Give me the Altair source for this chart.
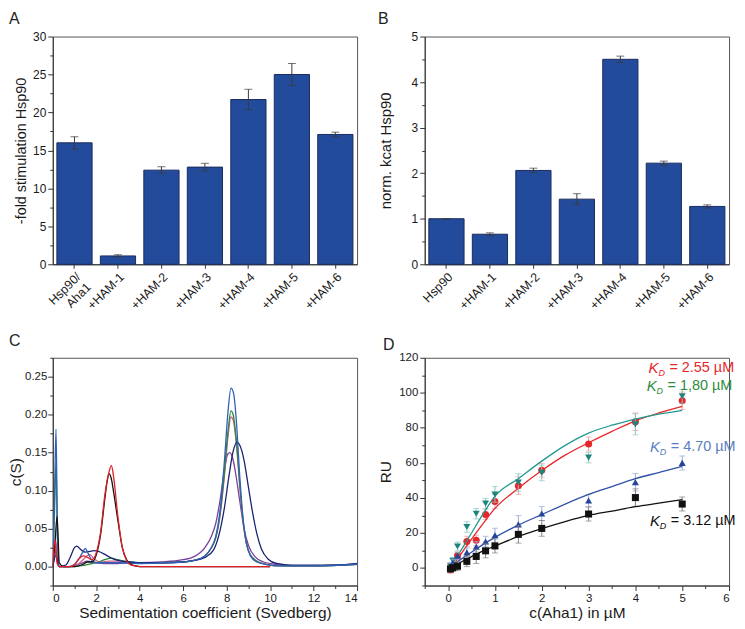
import altair as alt
import pandas as pd

FONT = "Liberation Sans"
BAR_FILL = "#234b9c"
BAR_EDGE = "#1b2b5e"
ERR = "#3a3a3a"

# ---------------- Panel A ----------------
a_cats = ["Hsp90/Aha1", "+HAM-1", "+HAM-2", "+HAM-3", "+HAM-4", "+HAM-5", "+HAM-6"]
a_vals = [16.0, 1.1, 12.4, 12.8, 21.7, 25.0, 17.1]
a_errs = [0.8, 0.15, 0.45, 0.5, 1.35, 1.45, 0.3]
a_ticks = [0, 2.5, 5, 7.5, 10, 12.5, 15, 17.5, 20, 22.5, 25, 27.5, 30]

# ---------------- Panel B ----------------
b_cats = ["Hsp90", "+HAM-1", "+HAM-2", "+HAM-3", "+HAM-4", "+HAM-5", "+HAM-6"]
b_vals = [1.0, 0.66, 2.06, 1.43, 4.50, 2.22, 1.27]
b_errs = [0.0, 0.03, 0.05, 0.12, 0.07, 0.045, 0.035]
b_ticks = [0, 0.5, 1, 1.5, 2, 2.5, 3, 3.5, 4, 4.5, 5]

# ---------------- Panel C ----------------
c_xticks = [0, 1, 2, 3, 4, 5, 6, 7, 8, 9, 10, 11, 12, 13, 14]
c_yticks = [-0.025, 0, 0.025, 0.05, 0.075, 0.1, 0.125, 0.15, 0.175, 0.2, 0.225, 0.25, 0.275]

purple_s = [0, 0.08, 0.15, 0.22, 0.3, 0.6, 1.0, 1.3, 1.6, 1.8, 2.0, 2.4, 3.0, 3.5, 4.0, 5.0, 6.0, 6.5, 7.0, 7.3,
            7.5, 7.7, 7.9, 8.05, 8.15, 8.3, 8.45, 8.6, 8.8, 9.0, 9.3, 9.7, 10.2, 11.0, 12.0, 13.0, 14.0]
purple_c = [0.0, 0.012, 0.022, 0.006, 0.0, 0.0, 0.001, 0.004, 0.007, 0.006, 0.005, 0.004, 0.004, 0.005, 0.005,
            0.006, 0.009, 0.013, 0.025, 0.04, 0.057, 0.088, 0.128, 0.148, 0.15, 0.14, 0.116, 0.087, 0.05, 0.028,
            0.013, 0.006, 0.003, 0.001, 0.001, 0.002, 0.003]
pink_s = [0, 0.08, 0.15, 0.22, 0.3, 0.8, 1.2, 1.5, 1.7, 1.9, 2.2, 2.6, 3.0, 3.5, 4.0, 5.0, 6.0, 6.5, 7.0, 7.3,
          7.5, 7.7, 7.9, 8.05, 8.2, 8.3, 8.45, 8.6, 8.75, 8.9, 9.1, 9.4, 9.8, 10.5, 12.0, 14.0]
pink_c = [0.0, 0.018, 0.032, 0.008, 0.0, 0.0, 0.004, 0.012, 0.016, 0.01, 0.006, 0.007, 0.007, 0.006, 0.005,
          0.005, 0.006, 0.008, 0.014, 0.025, 0.038, 0.068, 0.12, 0.168, 0.197, 0.193, 0.16, 0.106, 0.06, 0.031,
          0.014, 0.006, 0.003, 0.001, 0.001, 0.003]
green_s = [0, 0.08, 0.15, 0.22, 0.3, 1.0, 1.5, 2.0, 2.4, 2.7, 3.0, 3.5, 4.0, 5.0, 6.0, 6.5, 7.0, 7.3, 7.5, 7.7,
           7.9, 8.05, 8.2, 8.3, 8.45, 8.6, 8.75, 8.9, 9.1, 9.4, 9.8, 10.5, 12.0, 14.0]
green_c = [0.0, 0.07, 0.137, 0.03, 0.0, 0.0, 0.002, 0.005, 0.009, 0.011, 0.009, 0.006, 0.005, 0.005, 0.006,
           0.008, 0.014, 0.025, 0.038, 0.07, 0.125, 0.175, 0.205, 0.2, 0.165, 0.11, 0.062, 0.032, 0.015, 0.007,
           0.003, 0.001, 0.001, 0.003]
navy_s = [0, 0.15, 0.3, 0.6, 0.8, 1.0, 1.1, 1.3, 1.5, 1.7, 1.9, 2.1, 2.4, 2.7, 3.0, 3.5, 4.0, 5.0, 6.0, 6.5,
          7.0, 7.4, 7.7, 7.9, 8.1, 8.3, 8.48, 8.6, 8.8, 9.0, 9.2, 9.4, 9.6, 9.9, 10.3, 11.0, 12.0, 13.0, 14.0]
navy_c = [0.0, 0.015, 0.0, 0.002, 0.012, 0.025, 0.027, 0.022, 0.019, 0.02, 0.021, 0.02, 0.016, 0.011, 0.008,
          0.006, 0.005, 0.005, 0.006, 0.008, 0.012, 0.022, 0.048, 0.078, 0.118, 0.152, 0.164, 0.16, 0.14, 0.105,
          0.07, 0.042, 0.023, 0.01, 0.004, 0.002, 0.002, 0.002, 0.004]
blue_s = [0, 0.08, 0.15, 0.22, 0.3, 0.8, 1.0, 1.2, 1.4, 1.5, 1.6, 1.8, 2.0, 2.5, 3.0, 4.0, 5.0, 6.0, 6.5, 7.0,
          7.3, 7.5, 7.7, 7.9, 8.05, 8.2, 8.32, 8.45, 8.6, 8.75, 8.9, 9.1, 9.4, 9.8, 10.5, 12.0, 14.0]
blue_c = [0.0, 0.09, 0.181, 0.04, 0.0, 0.0, 0.003, 0.01, 0.02, 0.024, 0.019, 0.008, 0.005, 0.005, 0.005, 0.004,
          0.005, 0.006, 0.008, 0.014, 0.025, 0.04, 0.075, 0.14, 0.2, 0.235, 0.228, 0.19, 0.12, 0.065, 0.032,
          0.014, 0.006, 0.003, 0.001, 0.001, 0.003]
black_s = [0, 0.1, 0.2, 0.3, 0.5, 1.0, 1.4, 1.6, 1.8, 2.0, 2.2, 2.4, 2.5, 2.6, 2.7, 2.8, 3.0, 3.2, 3.4, 3.6,
           3.8, 4.0, 7.0, 10.0]
black_c = [0.0, 0.03, 0.066, 0.005, 0.0, 0.0, 0.003, 0.006, 0.006, 0.015, 0.042, 0.09, 0.112, 0.122, 0.115,
           0.098, 0.06, 0.025, 0.009, 0.003, 0.001, 0.0, 0.0, 0.0]
red_s = [0, 0.1, 0.2, 0.3, 0.5, 0.8, 1.0, 1.2, 1.4, 1.6, 1.8, 2.0, 2.2, 2.4, 2.6, 2.7, 2.8, 3.0, 3.2, 3.4,
         3.6, 3.8, 4.0, 7.0, 10.0]
red_c = [0.0, 0.035, 0.004, 0.0, 0.0, 0.0, 0.002, 0.01, 0.014, 0.012, 0.009, 0.018, 0.045, 0.095, 0.126, 0.133,
         0.118, 0.065, 0.025, 0.008, 0.002, 0.001, 0.0, 0.0, 0.0]

c_series = [
    (purple_s, purple_c, "#7b3f9e"),
    (pink_s, pink_c, "#d0608c"),
    (green_s, green_c, "#2a8a3a"),
    (navy_s, navy_c, "#1b2471"),
    (blue_s, blue_c, "#3060b8"),
    (black_s, black_c, "#111111"),
    (red_s, red_c, "#e41e26"),
]

# ---------------- Panel D ----------------
d_xticks = [-0.5, 0, 0.5, 1, 1.5, 2, 2.5, 3, 3.5, 4, 4.5, 5, 5.5, 6]
d_yticks = [-10, 0, 10, 20, 30, 40, 50, 60, 70, 80, 90, 100, 110, 120]
d_x = [0.05, 0.1, 0.2, 0.4, 0.6, 0.8, 1.0, 1.5, 2.0, 3.0, 4.0, 5.0]
d_red = [-1.0, 0.5, 7.0, 15.1, 15.8, 30.6, 38.0, 47.0, 55.8, 70.8, 83.5, 95.5]
d_teal = [1.0, 4.1, 12.3, 23.4, 31.0, 36.8, 42.0, 48.8, 54.3, 63.0, 82.0, 98.0]
d_blue = [1.0, 3.0, 7.0, 8.9, 12.1, 15.1, 18.7, 24.9, 31.1, 38.5, 49.0, 60.0]
d_black = [-0.5, 0.2, 1.0, 3.8, 6.6, 9.8, 12.6, 19.2, 22.6, 30.8, 40.2, 36.5]
d_red_err = [2, 2, 2, 3, 3, 3, 4, 5, 4, 4, 5, 5]
d_teal_err = [2, 2, 2.5, 3, 3, 3, 4.5, 5, 4.5, 3, 6, 4]
d_blue_err = [2, 2, 2, 2.5, 3, 3, 4, 5, 4, 3.5, 5, 4]
d_black_err = [2, 2, 2.5, 3, 4, 4, 4, 5, 4.5, 4, 5, 4]

fit_x = [0.05, 0.25, 0.5, 0.75, 1.0, 1.5, 2.0, 2.5, 3.0, 3.5, 4.0, 4.5, 5.0]
fit_red = [-1.0, 7.0, 16.5, 25.5, 34.0, 45.5, 55.6, 64.4, 71.5, 78.0, 84.0, 88.5, 92.3]
fit_teal = [0.5, 9.0, 20.0, 31.0, 41.0, 51.0, 61.0, 70.0, 77.0, 81.5, 85.0, 87.8, 90.0]
fit_blue = [0.5, 4.5, 9.0, 13.5, 17.5, 24.5, 30.5, 36.5, 42.0, 46.5, 51.0, 54.5, 58.0]
fit_black = [0.0, 3.0, 6.5, 9.8, 12.5, 18.0, 22.5, 26.5, 30.0, 32.5, 35.0, 37.0, 39.0]

kd_texts = ["= 2.55 µM", "=  1,80 µM", "= 4.70 µM", "= 3.12 µM"]
kd_x = [4.28, 4.24, 4.31, 4.31]
kd_y = [114, 104, 69, 27]

d_series = [
    (d_red, d_red_err, fit_red, "circle", "#e8262a", "#f0a0a0", "#e8262a", "#e8262a", 0),
    (d_teal, d_teal_err, fit_teal, "triangle-down", "#1e857c", "#8cc7c0", "#1f9a8e", "#2e8b3c", 1),
    (d_blue, d_blue_err, fit_blue, "triangle-up", "#27449a", "#9aaad6", "#2d52a6", "#5a7ec2", 2),
    (d_black, d_black_err, fit_black, "square", "#111111", "#808080", "#111111", "#111111", 3),
]

W, H = 306, 229


def minor_axis(ticks, major, title, title_pad, label_fmt="int", label_pad=2, **kw):
    m = int(round(major * 1000))
    test = f"round(datum.value*1000) % {m} === 0"
    if label_fmt == "int":
        lab = "toString(round(datum.value))"
    else:
        lab = f"format(datum.value, '{label_fmt}')"
    args = dict(
        title=title,
        values=ticks,
        labelExpr=f"{test} ? {lab} : ''",
        tickSize={"condition": {"test": test, "value": 5}, "value": 3},
        titlePadding=title_pad,
        labelPadding=label_pad,
        labelOverlap=False,
        grid=False,
    )
    args.update(kw)
    return alt.Axis(**args)


def letter_title(letter, dx, dy, offset=0):
    return alt.TitleParams(letter, anchor="start", frame="group", dx=dx, dy=dy, offset=offset, fontSize=16,
                           fontWeight="normal", font=FONT, color="#222222")


def bar_panel(cats, vals, errs, ticks, major, ytitle, letter, title_pad, dx, ytitle_size, label_expr=None):
    df = pd.DataFrame({
        "cat": cats,
        "val": vals,
        "lo": [v - e for v, e in zip(vals, errs)],
        "hi": [v + e for v, e in zip(vals, errs)],
    })
    xaxis_args = dict(title=None, labelAngle=-45, labelFontSize=12.5, tickSize=4, labelPadding=2)
    if label_expr:
        xaxis_args["labelExpr"] = label_expr
    xscale = alt.Scale(paddingInner=0.19, paddingOuter=0.095)
    xaxis = alt.Axis(**xaxis_args)
    yscale = alt.Scale(domain=[ticks[0], ticks[-1]], nice=False)
    yaxis = minor_axis(ticks, major, ytitle, title_pad, titleFontSize=ytitle_size)
    x = alt.X("cat:N", sort=cats, scale=xscale, axis=xaxis)

    def Y(f):
        return alt.Y(f"{f}:Q", scale=yscale, axis=yaxis)

    bars = alt.Chart(df).mark_bar(fill=BAR_FILL, stroke=BAR_EDGE, strokeWidth=1).encode(x=x, y=Y("val"))
    rule = alt.Chart(df).mark_rule(color=ERR, strokeWidth=1).encode(x=x, y=Y("lo"), y2="hi:Q")
    cap_lo = alt.Chart(df).mark_tick(color=ERR, size=8, thickness=1).encode(x=x, y=Y("lo"))
    cap_hi = alt.Chart(df).mark_tick(color=ERR, size=8, thickness=1).encode(x=x, y=Y("hi"))
    return alt.layer(bars, rule, cap_lo, cap_hi).properties(
        width=W, height=H, title=letter_title(letter, dx, 2, offset=6))


panel_a = bar_panel(a_cats, a_vals, a_errs, a_ticks, 5, "-fold stimulation Hsp90", "A", 4, -44, 14.5,
                    "datum.value === 'Hsp90/Aha1' ? ['Hsp90/', 'Aha1'] : datum.label")
panel_b = bar_panel(b_cats, b_vals, b_errs, b_ticks, 1, "norm. kcat Hsp90", "B", 18, -47, 15)

# Panel C
c_xscale = alt.Scale(domain=[0, 14], nice=False)
c_yscale = alt.Scale(domain=[-0.025, 0.275], nice=False)
c_xaxis = minor_axis(c_xticks, 2, "Sedimentation coefficient (Svedberg)", 2, labelFontSize=11.5,
                     titleFontSize=15.5)
c_yaxis = minor_axis(c_yticks, 0.05, "c(S)", 1, label_fmt=".2f", label_pad=1, labelFontSize=11.5,
                     titleFontSize=15.5)
c_layers = []
for s_vals, c_vals, col in c_series:
    df = pd.DataFrame({"s": s_vals, "c": c_vals})
    c_layers.append(alt.Chart(df).mark_line(color=col, strokeWidth=1.3, interpolate="monotone",
                                            clip=True).encode(
        x=alt.X("s:Q", scale=c_xscale, axis=c_xaxis),
        y=alt.Y("c:Q", scale=c_yscale, axis=c_yaxis)))
panel_c = alt.layer(*c_layers).properties(width=W, height=H, title=letter_title("C", -44, -3))

# Panel D
d_xscale = alt.Scale(domain=[-0.5, 6], nice=False)
d_yscale = alt.Scale(domain=[-10, 120], nice=False)
d_xaxis = minor_axis(d_xticks, 1, "c(Aha1) in µM", 2, labelFontSize=11.5, titleFontSize=15.5)
d_yaxis = minor_axis(d_yticks, 20, "RU", 5, labelFontSize=11.5, titleFontSize=15.5)
d_layers = []
for vals, errs, fit, shape, pcol, ecol, lcol, tcol, li in d_series:
    df = pd.DataFrame({
        "x": d_x, "y": vals,
        "lo": [v - e for v, e in zip(vals, errs)],
        "hi": [v + e for v, e in zip(vals, errs)],
    })
    fdf = pd.DataFrame({"x": fit_x, "y": fit})
    X = alt.X("x:Q", scale=d_xscale, axis=d_xaxis)

    def DY(f):
        return alt.Y(f"{f}:Q", scale=d_yscale, axis=d_yaxis)

    d_layers.append(alt.Chart(df).mark_rule(color=ecol, strokeWidth=1).encode(x=X, y=DY("lo"), y2="hi:Q"))
    for fld in ("lo", "hi"):
        d_layers.append(alt.Chart(df).mark_tick(color=ecol, size=6, thickness=1, orient="horizontal").encode(
            x=X, y=DY(fld)))
    d_layers.append(alt.Chart(fdf).mark_line(color=lcol, strokeWidth=1.3, interpolate="monotone").encode(
        x=X, y=DY("y")))
    d_layers.append(alt.Chart(df).mark_point(shape=shape, filled=True, color=pcol, size=50, opacity=1).encode(
        x=X, y=DY("y")))
    tdf = pd.DataFrame({"x": [kd_x[li]], "y": [kd_y[li]], "t": [kd_texts[li]]})
    d_layers.append(alt.Chart(tdf).mark_text(text="K", font=FONT, fontSize=15, fontStyle="italic",
                                             color=tcol, align="left", baseline="middle").encode(x=X, y=DY("y")))
    d_layers.append(alt.Chart(tdf).mark_text(text="D", font=FONT, fontSize=9, fontStyle="italic",
                                             color=tcol, align="left", baseline="middle", dx=10, dy=5
                                             ).encode(x=X, y=DY("y")))
    d_layers.append(alt.Chart(tdf).mark_text(font=FONT, fontSize=14.5, color=tcol, align="left",
                                             baseline="middle", dx=21).encode(x=X, y=DY("y"), text="t:N"))
panel_d = alt.layer(*d_layers).properties(width=W, height=H, title=letter_title("D", -42, 1))

chart = alt.concat(panel_a, panel_b, panel_c, panel_d, columns=2, bounds="flush",
                   spacing={"row": 94, "column": 68}).properties(padding=0).configure_axis(
    labelFont=FONT, titleFont=FONT, labelFontSize=12, titleFontSize=15, titleFontWeight="normal",
    labelColor="#1a1a1a", titleColor="#1a1a1a", domainColor="#333333", tickColor="#333333", grid=False
).configure_view(stroke="#555555", strokeWidth=1)

chart.save("out.html", embed_options={"renderer": "svg", "actions": False})
